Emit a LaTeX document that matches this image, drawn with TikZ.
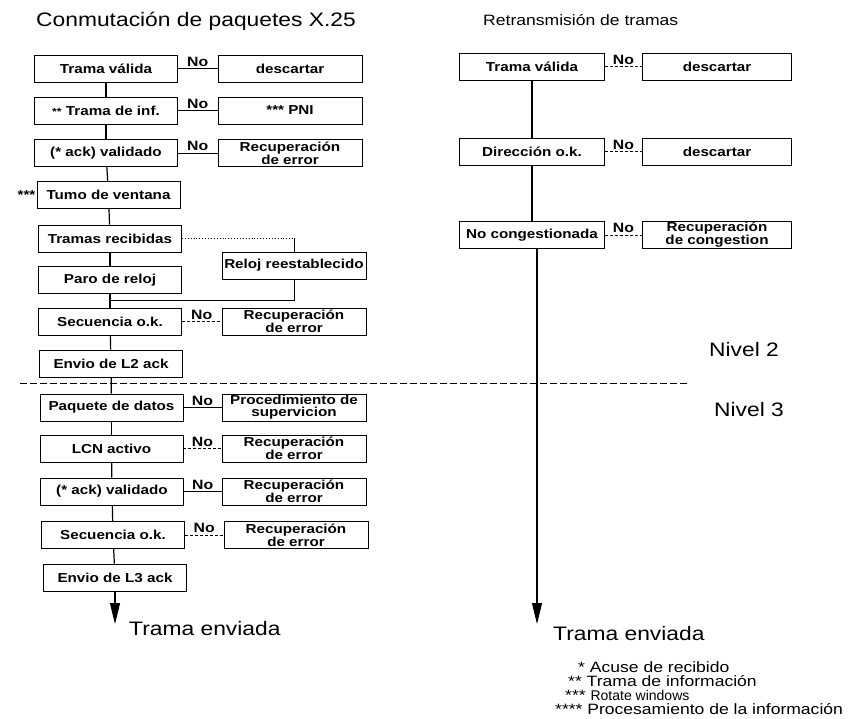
\documentclass[tikz,border=0pt]{standalone}
\usepackage{fontspec}
\setmainfont{Liberation Sans}[FakeStretch=1.17]
\newfontfamily\estrecha{Liberation Sans}
\usetikzlibrary{arrows.meta,calc}

\newcommand{\cajafont}{\fontsize{13}{12}\selectfont\bfseries}
\newcommand{\nofont}{\fontsize{13.5}{14}\selectfont\bfseries}
\newcommand{\titfont}{\fontsize{19.5}{22}\selectfont}
\newcommand{\subtitfont}{\fontsize{15}{18}\selectfont}
\newcommand{\grandefont}{\fontsize{19.5}{22}\selectfont}
\newcommand{\notafont}{\fontsize{15}{14}\selectfont}

\begin{document}
\begin{tikzpicture}[x=1pt,y=-1pt]
\tikzset{>={Triangle[width=10pt,length=21pt]},
  paso/.style={draw, line width=0.8pt, minimum width=143pt, minimum height=27pt,
    inner sep=0pt, font=\cajafont},
  accion/.style={paso, minimum width=144pt, align=center},
  no/.style={above, inner sep=1.5pt, font=\nofont},
  linea/.style={line width=1.2pt},
  suelto/.style={anchor=west, inner sep=0pt}}
\useasboundingbox (0,0) rectangle (857,719);

% titulos
\node[suelto, font=\titfont] (tit1) at (36,21) {Conmutación de paquetes X.25};
\node[suelto, font=\subtitfont] (tit2) at (483,20) {Retransmisión de tramas};

% X.25, nivel 2
\node[paso] (l1) at (106,68.5) {Trama válida};
\node[paso] (l2) at (106,110.5) {{\fontsize{10.5}{10}\selectfont**} Trama de inf.};
\node[paso] (l3) at (106,153) {(* ack) validado};
\node[paso] (l4) at (108.5,195) {Tumo de ventana};
\node[paso] (l5) at (110,238.5) {Tramas recibidas};
\node[paso] (l6) at (110,280) {Paro de reloj};
\node[paso] (l7) at (110,321.5) {Secuencia o.k.};
\node[paso] (l8) at (111,363.5) {Envio de L2 ack};
\node[left, inner sep=1pt, font=\cajafont] (est) at (l4.west) {***};

\node[accion] (s1) at (290,68.5) {descartar};
\node[accion] (s2) at (290,110.5) {*** PNI};
\node[accion] (s3) at (290,153) {Recuperación\\de error};
\node[accion] (s6) at (294,265.5) {Reloj reestablecido};
\node[accion] (s7) at (294,321.5) {Recuperación\\de error};

% X.25, nivel 3
\node[paso] (l9) at (111.5,407.5) {Paquete de datos};
\node[paso] (l10) at (111.5,448.5) {LCN activo};
\node[paso] (l11) at (112,491.5) {(* ack) validado};
\node[paso] (l12) at (113,535) {Secuencia o.k.};
\node[paso] (l13) at (115,577.5) {Envio de L3 ack};

\node[accion] (s9) at (294,407.5) {Procedimiento de\\supervicion};
\node[accion] (s10) at (294,448.5) {Recuperación\\de error};
\node[accion] (s11) at (294,491.5) {Recuperación\\de error};
\node[accion] (s12) at (296,535) {Recuperación\\de error};

% retransmision de tramas
\node[paso, minimum width=145pt] (r1) at (532,66.5) {Trama válida};
\node[paso, minimum width=145pt] (r2) at (532,151.5) {Dirección o.k.};
\node[paso, minimum width=145pt] (r3) at (532,235) {No congestionada};
\node[accion, minimum width=149pt] (d1) at (717,66.5) {descartar};
\node[accion, minimum width=149pt] (d2) at (717,151.5) {descartar};
\node[accion, minimum width=149pt] (d3) at (717,235) {Recuperación\\de congestion};

% camino principal
\foreach \a/\b in {l1/l2,l2/l3,l3/l4,l4/l5,l5/l6,l8/l9,l9/l10,l10/l11,l11/l12,l12/l13,r1/r2,r2/r3}
  \draw[linea] (\a) -- (\b);
\coordinate (enlace) at ($(l6.south)!.5!(l7.north)$);
\draw[linea] (l6) -- (l7);
\draw[linea] (l7) -- (l8);

% reloj
\coordinate (esquina) at (l5.east -| s6.north);
\draw[dotted, line width=0.9pt] (l5) -- (esquina);
\draw[line width=0.9pt] (esquina) -- (s6);
\draw[line width=0.9pt] (s6) |- (enlace);

% ramas "No"
\foreach \a/\b in {l1/s1,l2/s2,l3/s3,l9/s9,l11/s11}
  \draw[line width=0.9pt] (\a) -- node[no] {No} (\b);
\foreach \a/\b in {l7/s7,l10/s10,l12/s12,r1/d1,r2/d2,r3/d3}
  \draw[densely dashed, line width=0.9pt] (\a) -- node[no] {No} (\b);

% separacion de niveles
\draw[dash pattern=on 7pt off 3pt, line width=0.8pt] (20,383) -- (688,383);
\node[suelto, font=\grandefont] (niv2) at (709,350) {Nivel 2};
\node[suelto, font=\grandefont] (niv3) at (714,410) {Nivel 3};

% salidas
\coordinate (fin1) at (115,624);
\coordinate (fin2) at (537,624);
\draw[linea,->] (l13) -- (fin1);
\draw[linea,->] (r3.south -| fin2) -- (fin2);
\node[suelto, font=\grandefont] (env1) at (129,629) {Trama enviada};
\node[suelto, font=\grandefont] (env2) at (553,634) {Trama enviada};

% notas
\node[suelto, font=\notafont] (n1) at (578,667) {* Acuse de recibido};
\node[suelto, font=\notafont] (n2) at (568,681) {** Trama de información};
\node[suelto, font=\notafont] (n3) at (565,695) {*** \estrecha\fontsize{14}{13}\selectfont Rotate windows};
\node[suelto, font=\notafont] (n4) at (555,709) {**** Procesamiento de la información};
\end{tikzpicture}
\end{document}
